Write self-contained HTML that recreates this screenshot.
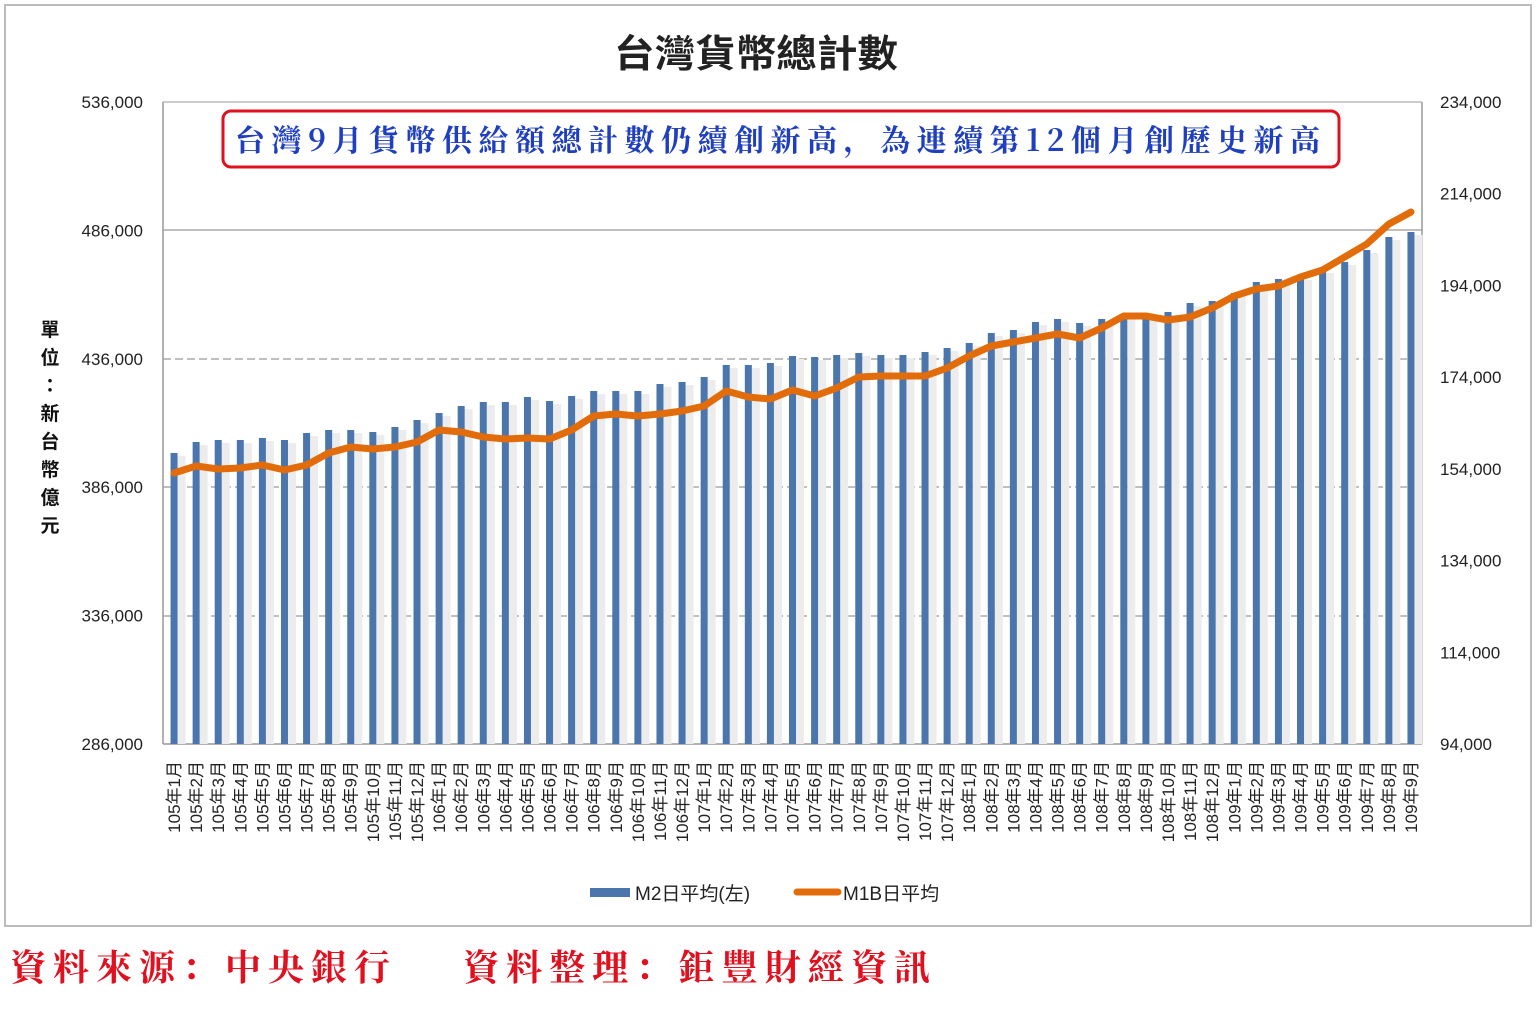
<!DOCTYPE html>
<html><head><meta charset="utf-8">
<style>
html,body{margin:0;padding:0;background:#fff;width:1536px;height:1014px;overflow:hidden}
svg{display:block}
</style></head>
<body>
<svg id="s" width="1536" height="1014" xmlns="http://www.w3.org/2000/svg" font-family="Liberation Sans, 'Noto Sans CJK TC', sans-serif">
<rect x="5" y="5" width="1526" height="921" fill="#fff" stroke="#bbb" stroke-width="2"/>
<text x="614" y="67" textLength="284" lengthAdjust="spacingAndGlyphs" font-size="38" font-weight="bold" fill="#222" font-family="'Noto Sans CJK TC', sans-serif">台灣貨幣總計數</text>
<g id="grid"></g>
<g id="bars"></g>
<polyline id="line" fill="none" stroke="#e36c0a" stroke-width="7" stroke-linejoin="round" stroke-linecap="round"/>
<rect x="223" y="111" width="1116" height="56" rx="8" fill="#fff" stroke="#e0101f" stroke-width="3"/>
<text x="235" y="151" textLength="1085" lengthAdjust="spacing" font-size="30" font-weight="bold" fill="#1f3fbf" font-family="'Noto Serif CJK SC',serif">台灣9月貨幣供給額總計數仍續創新高，為連續第12個月創歷史新高</text>
<g font-size="19" font-weight="bold" fill="#111" font-family="'Noto Sans CJK TC',sans-serif" text-anchor="middle">
<text x="50" y="336">單</text><text x="50" y="364">位</text><text x="50" y="392">：</text><text x="50" y="420">新</text><text x="50" y="448">台</text><text x="50" y="476">幣</text><text x="50" y="504">億</text><text x="50" y="532">元</text>
</g>
<g id="ax" font-size="17" fill="#222"></g>
<g id="cat" font-size="17" fill="#222" font-family="Liberation Sans,'Noto Sans CJK TC',sans-serif"></g>
<rect x="590" y="888" width="40" height="9" fill="#4a76ad"/>
<text x="635" y="900" font-size="19" fill="#222">M2日平均(左)</text>
<line x1="797" y1="892" x2="838" y2="892" stroke="#e36c0a" stroke-width="7" stroke-linecap="round"/>
<text x="843" y="900" font-size="19" fill="#222">M1B日平均</text>
<text x="10" y="980" textLength="380" lengthAdjust="spacing" font-size="36" font-weight="bold" fill="#e0101f" font-family="'Noto Serif CJK SC',serif">資料來源：中央銀行</text>
<text x="463" y="980" textLength="467" lengthAdjust="spacing" font-size="36" font-weight="bold" fill="#e0101f" font-family="'Noto Serif CJK SC',serif">資料整理：鉅豐財經資訊</text>
</svg>
<script>
var NS="http://www.w3.org/2000/svg";
function el(p,t,a,txt){var e=document.createElementNS(NS,t);for(var k in a)e.setAttribute(k,a[k]);if(txt!=null)e.textContent=txt;document.getElementById(p).appendChild(e);return e;}
var L=163,R=1422,T=102,B=744;
var gy=[230,359,487,616];
gy.forEach(function(y,i){el('grid','line',{x1:L,x2:R,y1:y,y2:y,stroke:'#999','stroke-width':1.3,'stroke-dasharray':i==0?'':'8 4'});});
el('grid','line',{x1:L,x2:L,y1:T,y2:B,stroke:'#999','stroke-width':1.5});
el('grid','line',{x1:R,x2:R,y1:T,y2:B,stroke:'#999','stroke-width':1.5});
el('grid','line',{x1:L,x2:R,y1:T,y2:T,stroke:'#999','stroke-width':1});
el('grid','line',{x1:L,x2:R,y1:B,y2:B,stroke:'#999','stroke-width':1.5});
var ll=["536,000","486,000","436,000","386,000","336,000","286,000"];
var rl=["234,000","214,000","194,000","174,000","154,000","134,000","114,000","94,000"];
ll.forEach(function(t,i){el('ax','text',{x:143,y:T+i*128.4+6,'text-anchor':'end'},t);});
rl.forEach(function(t,i){el('ax','text',{x:1440,y:T+i*91.71+6},t);});
var bt=[453,442,440,440,438,440,433,430,430,432,427,420,413,406,402,402,397,401,396,391,391,391,384,382,377,365,365,363,356,357,355,353,355,355,352,348,343,333,330,322,319,323,319,315,315,312,303,301,293,282,279,277,270,262,250,237,232];
var ly=[473,466,469,468,465,470,465,453,447,449,447,442,430,432,437,439,438,439,430,416,414,416,414,411,406,391,397,399,390,396,388,377,376,376,376,368,356,346,342,338,334,338,328,316,316,320,317,308,296,289,286,277,270,257,244,224,212];
var w=(R-L)/57,pts=[];
for(var i=0;i<57;i++){
 var cx=L+w*(i+0.5);
 el('bars','rect',{x:cx+3.5,y:bt[i]+3,width:8,height:B-bt[i]-3,fill:'#ececec'});
 el('bars','rect',{x:cx-3.5,y:bt[i],width:7,height:B-bt[i],fill:'#4a76ad'});
 pts.push(cx.toFixed(1)+','+ly[i]);
 var yr=105+Math.floor(i/12),m=i%12+1;
 el('cat','text',{transform:'translate('+(cx+6)+',761) rotate(-90)','text-anchor':'end'},yr+'年'+m+'月');
}
document.getElementById('line').setAttribute('points',pts.join(' '));
</script>
</body></html>
